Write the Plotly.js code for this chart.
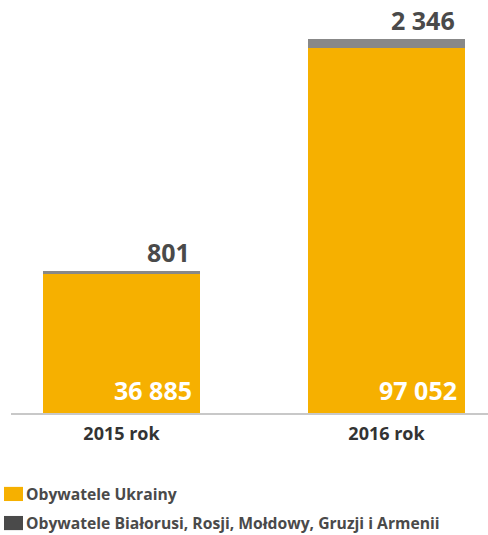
<!DOCTYPE html>
<html>
<head>
<meta charset="utf-8">
<script src="https://cdn.plot.ly/plotly-3.0.1.min.js"></script>
<style>html,body{margin:0;padding:0;background:#fff;}#chart{width:488px;height:535px;}</style>
</head>
<body>
<div id="chart"></div>
<script>
const categories = ["2015 rok", "2016 rok"];
const ukraine = [36885, 97052];
const others = [801, 2346];
const seriesNames = ["Obywatele Ukrainy", "Obywatele Białorusi, Rosji, Mołdowy, Gruzji i Armenii"];

const fmt = v => String(v).replace(/\B(?=(\d{3})+(?!\d))/g, " ");
const FONT = "Open Sans, Noto Sans, sans-serif";
const ORANGE = "#F6B000";
const GREY = "#888888";
const DARK = "#4a4a4a";

const traces = [
  {type: "bar", x: categories, y: ukraine, name: seriesNames[0], marker: {color: ORANGE}, width: 0.592, showlegend: false, hoverinfo: "none"},
  {type: "bar", x: categories, y: others, name: seriesNames[1], marker: {color: GREY}, width: 0.592, showlegend: false, hoverinfo: "none"}
];

const annotations = [];
categories.forEach((c, i) => {
  annotations.push({x: c, y: 0, xref: "x", yref: "y", text: "<b>" + fmt(ukraine[i]) + "</b>", showarrow: false,
    xanchor: "right", yanchor: "bottom", xshift: 72, yshift: 4, font: {family: FONT, size: 25, color: "#ffffff"}});
  annotations.push({x: c, y: ukraine[i] + others[i], xref: "x", yref: "y", text: "<b>" + fmt(others[i]) + "</b>", showarrow: false,
    xanchor: "right", yanchor: "bottom", xshift: 70, yshift: 0, font: {family: FONT, size: 25, color: DARK}});
});
// legend (paper coords span the plot area: x 11..488 px, y 20..413 px)
const legendColors = [ORANGE, DARK];
const legendY = [-0.206, -0.280];
const shapes = [];
seriesNames.forEach((n, i) => {
  shapes.push({type: "rect", xref: "paper", yref: "paper", x0: -0.0147, x1: 0.0252, y0: legendY[i] - 0.018, y1: legendY[i] + 0.018, fillcolor: legendColors[i], line: {width: 0}});
  annotations.push({xref: "paper", yref: "paper", x: 0.027, y: legendY[i], text: "<b>" + n + "</b>", showarrow: false,
    xanchor: "left", yanchor: "middle", font: {family: FONT, size: 15.7, color: DARK}});
});

const layout = {
  width: 488, height: 535,
  margin: {l: 11, r: 0, t: 20, b: 122},
  paper_bgcolor: "#fff", plot_bgcolor: "#fff",
  barmode: "stack",
  showlegend: false,
  xaxis: {type: "category", range: [-0.417, 1.383], showline: true, linecolor: "#c8c8c8", linewidth: 2,
    showgrid: false, zeroline: false, ticks: "", ticklabelstandoff: 3,
    tickfont: {family: FONT, size: 18, color: "#333333", weight: "bold"}, fixedrange: true},
  yaxis: {range: [0, 104447], visible: false, showgrid: false, zeroline: false, fixedrange: true},
  annotations: annotations,
  shapes: shapes
};
Plotly.newPlot("chart", traces, layout, {staticPlot: true, displayModeBar: false});
</script>
</body>
</html>
